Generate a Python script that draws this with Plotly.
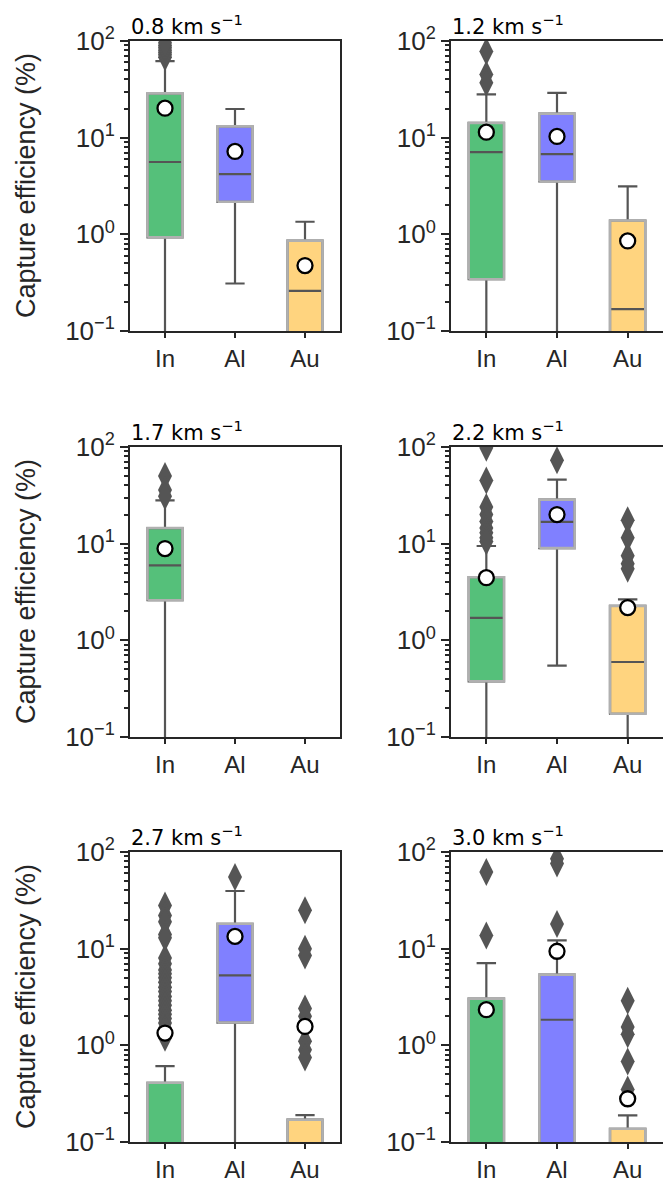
import plotly.graph_objects as go

# ---------------- data ----------------
speeds = ["0.8", "1.2", "1.7", "2.2", "2.7", "3.0"]
materials = ["In", "Al", "Au"]
colors = ["#55c07a", "#8080ff", "#ffd47f"]

# per panel -> [In, Al, Au]; None = no data
q1 = [[0.93, 2.17, 0.05], [0.343, 3.52, 0.05], [2.6, None, None],
      [0.377, 9.0, 0.174], [0.01, 1.72, 0.01], [0.01, 0.01, 0.01]]
median = [[5.6, 4.2, 0.26], [7.1, 6.76, 0.168], [5.97, None, None],
          [1.71, 16.8, 0.597], [0.05, 5.3, 0.05], [0.05, 1.84, 0.05]]
q3 = [[28.7, 13.1, 0.86], [14.2, 17.7, 1.39], [14.5, None, None],
      [4.5, 28.5, 2.27], [0.41, 18.1, 0.17], [3.04, 5.38, 0.137]]
lowerfence = [[0.01, 0.31, 0.01], [0.01, 0.01, 0.01], [0.01, None, None],
              [0.01, 0.547, 0.01], [0.001, 0.01, 0.001], [0.001, 0.001, 0.001]]
upperfence = [[62, 19.8, 1.35], [28, 29, 3.13], [28, None, None],
              [9.46, 45.9, 2.65], [0.61, 39.5, 0.19], [7.1, 12.2, 0.189]]
means = [[20.2, 7.2, 0.475], [11.4, 10.3, 0.855], [8.9, None, None],
         [4.45, 20.0, 2.18], [1.34, 13.4, 1.57], [2.34, 9.4, 0.28]]
outliers_In = [[68, 72, 76, 80, 85, 90, 96], [78, 45, 37], [50, 36, 31],
               [98, 45, 24, 20, 17, 14.5, 13, 11.5, 10.5],
               [28, 22, 19, 14, 13, 8, 7, 6, 5.5, 5, 4.5, 4, 3.6, 3.2, 2.9,
                2.6, 2.3, 2.1, 1.9, 1.7, 1.5, 1.35, 1.2],
               [62, 13.7]]
outliers_Al = [[], [], [], [73], [55], [85, 76, 18]]
outliers_Au = [[], [], [], [17.5, 11.5, 7.5, 6.2, 5.5],
               [25, 10, 8.5, 2.4, 2.0, 1.1, 0.9, 0.75],
               [2.9, 1.55, 1.3, 0.68, 0.35]]
outliers = [outliers_In, outliers_Al, outliers_Au]

ytickvals = [0.1, 1, 10, 100]
yticktext = ["10<sup>−1</sup>", "10<sup>0</sup>", "10<sup>1</sup>", "10<sup>2</sup>"]
yminor = [m * 10.0 ** e for e in (-1, 0, 1) for m in range(2, 10)]

# ---------------- styling / geometry ----------------
OFF = 8                      # page body margin of the html page
W, H = 671 - OFF, 1183 - OFF
BOXW = 0.5
HW = BOXW / 2
cols_px = [(130, 340), (451, 663)]
rows_px = [(41, 331), (447, 737), (852, 1142)]
xdom = [((a - OFF) / W, (b - OFF) / W) for (a, b) in cols_px]
ydom = [(1 - (b - OFF) / H, 1 - (t - OFF) / H) for (t, b) in rows_px]

fig = go.Figure()
AX = "#262626"
ytickfont = dict(family="Liberation Sans, Arial", size=26, color=AX)
xtickfont = dict(family="Liberation Sans, Arial", size=24, color=AX)
xpos = list(range(len(materials)))

for p in range(6):
    r, c = divmod(p, 2)
    n = p + 1
    xa = "x" if n == 1 else f"x{n}"
    ya = "y" if n == 1 else f"y{n}"
    for m, mat in enumerate(materials):
        if q1[p][m] is None:
            continue
        i = xpos[m]
        # box with whiskers, caps and median (dark grey)
        fig.add_trace(go.Box(
            x=[i], q1=[q1[p][m]], median=[median[p][m]], q3=[q3[p][m]],
            lowerfence=[lowerfence[p][m]], upperfence=[upperfence[p][m]],
            width=BOXW, whiskerwidth=0.55, boxpoints=False,
            fillcolor=colors[m], line=dict(color="#555555", width=2.2),
            xaxis=xa, yaxis=ya, showlegend=False, hoverinfo="skip"))
        # light grey box edge (seaborn style)
        fig.add_trace(go.Scatter(
            x=[i - HW, i + HW, i + HW, i - HW, i - HW],
            y=[q1[p][m], q1[p][m], q3[p][m], q3[p][m], q1[p][m]],
            mode="lines", line=dict(color="#b0b0b0", width=2.6),
            xaxis=xa, yaxis=ya, showlegend=False, hoverinfo="skip"))
        ol = outliers[m][p]
        if ol:
            fig.add_trace(go.Scatter(
                x=[i] * len(ol), y=ol, mode="markers",
                marker=dict(symbol="diamond-tall", size=20, color="#555555",
                            line=dict(width=0)),
                xaxis=xa, yaxis=ya, showlegend=False, hoverinfo="skip"))
        fig.add_trace(go.Scatter(
            x=[i], y=[means[p][m]], mode="markers",
            marker=dict(symbol="circle", size=15, color="white",
                        line=dict(color="black", width=2.3)),
            xaxis=xa, yaxis=ya, showlegend=False, hoverinfo="skip"))

    xkey = "xaxis" if n == 1 else f"xaxis{n}"
    ykey = "yaxis" if n == 1 else f"yaxis{n}"
    fig.update_layout(**{
        xkey: dict(domain=list(xdom[c]), anchor=ya, type="linear",
                   tickmode="array", tickvals=xpos, ticktext=materials,
                   range=[-0.5, 2.5], showline=True, mirror=True,
                   linecolor=AX, linewidth=2, ticks="outside", ticklen=5,
                   tickwidth=2, tickcolor=AX, showgrid=False, zeroline=False,
                   tickfont=xtickfont, automargin=False),
        ykey: dict(domain=list(ydom[r]), anchor=xa, type="log",
                   range=[-1, 2], tickmode="array", tickvals=ytickvals,
                   ticktext=yticktext, showline=True, mirror=True,
                   linecolor=AX, linewidth=2, ticks="outside", ticklen=8,
                   tickwidth=2, tickcolor=AX, showgrid=False, zeroline=False,
                   tickfont=ytickfont, automargin=False,
                   minor=dict(tickmode="array", tickvals=yminor,
                              ticks="outside", ticklen=4.5, tickwidth=1.5,
                              tickcolor=AX, showgrid=False)),
    })
    fig.add_annotation(
        text=f"{speeds[p]} km s<sup>−1</sup>", x=xdom[c][0], y=ydom[r][1],
        xref="paper", yref="paper", xanchor="left", yanchor="bottom",
        yshift=1, showarrow=False, borderpad=0,
        font=dict(family="DejaVu Sans", size=21, color="black"))
    if c == 0:
        fig.add_annotation(
            text="Capture efficiency (%)", x=(26 - OFF) / W,
            y=(ydom[r][0] + ydom[r][1]) / 2, xref="paper", yref="paper",
            textangle=-90, showarrow=False, xanchor="center", yanchor="middle",
            font=dict(family="Liberation Sans, Arial", size=27, color=AX))

fig.update_layout(template="none", width=W, height=H,
                  margin=dict(l=0, r=0, t=0, b=0, autoexpand=False),
                  paper_bgcolor="white", plot_bgcolor="white",
                  boxmode="overlay", showlegend=False)

fig.write_html("out.html")
